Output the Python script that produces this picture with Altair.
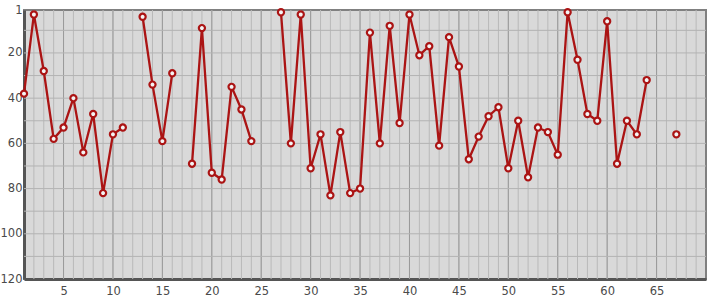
import altair as alt
import pandas as pd

# Data (None = no value)
xs = list(range(1, 68))
ranks = [38, 3, 28, 58, 53, 40, 64, 47, 82, 56,
         53, None, 4, 34, 59, 29, None, 69, 9, 73,
         76, 35, 45, 59, None, None, 2, 60, 3, 71,
         56, 83, 55, 82, 80, 11, 60, 8, 51, 3,
         21, 17, 61, 13, 26, 67, 57, 48, 44, 71,
         50, 75, 53, 55, 65, 2, 23, 47, 50, 6,
         69, 50, 56, 32, None, None, 56]

x_ticks = [5, 10, 15, 20, 25, 30, 35, 40, 45, 50, 55, 60, 65]
y_ticks = [1, 20, 40, 60, 80, 100, 120]
x_minor = list(range(2, 70))
x_major = list(range(5, 70, 5))
y_grid = list(range(10, 120, 10))

X_DOMAIN = [1, 70]
Y_DOMAIN = [1, 120]

df = pd.DataFrame({"x": xs, "y": ranks})

xscale = alt.Scale(domain=X_DOMAIN, nice=False, zero=False)
yscale = alt.Scale(domain=Y_DOMAIN, nice=False, zero=False, reverse=True)

xaxis = alt.Axis(values=x_ticks, grid=False, ticks=False, domain=True,
                 domainColor="#555555", domainWidth=3, labelColor="#4a4a4a",
                 labelFontSize=11.5, labelPadding=6, labelFont="DejaVu Sans",
                 title=None)
yaxis = alt.Axis(values=y_ticks, grid=False, ticks=False, domain=True,
                 domainColor="#555555", domainWidth=3, labelColor="#4a4a4a",
                 labelFontSize=11.5, labelPadding=2, labelFont="DejaVu Sans",
                 title=None)

minor = alt.Chart(pd.DataFrame({"g": x_minor})).mark_rule(
    color="#b9b9b9", strokeWidth=1
).encode(x=alt.X("g:Q", scale=xscale, axis=xaxis, title=None))

major = alt.Chart(pd.DataFrame({"g": x_major})).mark_rule(
    color="#9a9a9a", strokeWidth=1
).encode(x=alt.X("g:Q", scale=xscale, axis=xaxis, title=None))

hgrid = alt.Chart(pd.DataFrame({"g": y_grid})).mark_rule(
    color="#b3b3b3", strokeWidth=1
).encode(y=alt.Y("g:Q", scale=yscale, axis=yaxis, title=None))

line = alt.Chart(df).mark_line(
    color="#ab1414", strokeWidth=2.3, invalid="break-paths-show-domains"
).encode(
    x=alt.X("x:Q", scale=xscale, axis=xaxis, title=None),
    y=alt.Y("y:Q", scale=yscale, axis=yaxis, title=None),
)

points = alt.Chart(df).mark_point(
    shape="circle", filled=True, fill="#f4f4f4", stroke="#ab1414",
    strokeWidth=2.2, size=38, opacity=1
).encode(
    x=alt.X("x:Q", scale=xscale, axis=xaxis, title=None),
    y=alt.Y("y:Q", scale=yscale, axis=yaxis, title=None),
)

chart = alt.layer(minor, major, hgrid, line, points).properties(
    width=682, height=269,
    autosize=alt.AutoSizeParams(type="none"),
    padding={"left": 24, "top": 10, "right": 9, "bottom": 21},
).configure_view(
    fill="#d9d9d9", stroke="#808080", strokeWidth=2
)

chart.save("out.html", embed_options={"renderer": "svg", "actions": False})
